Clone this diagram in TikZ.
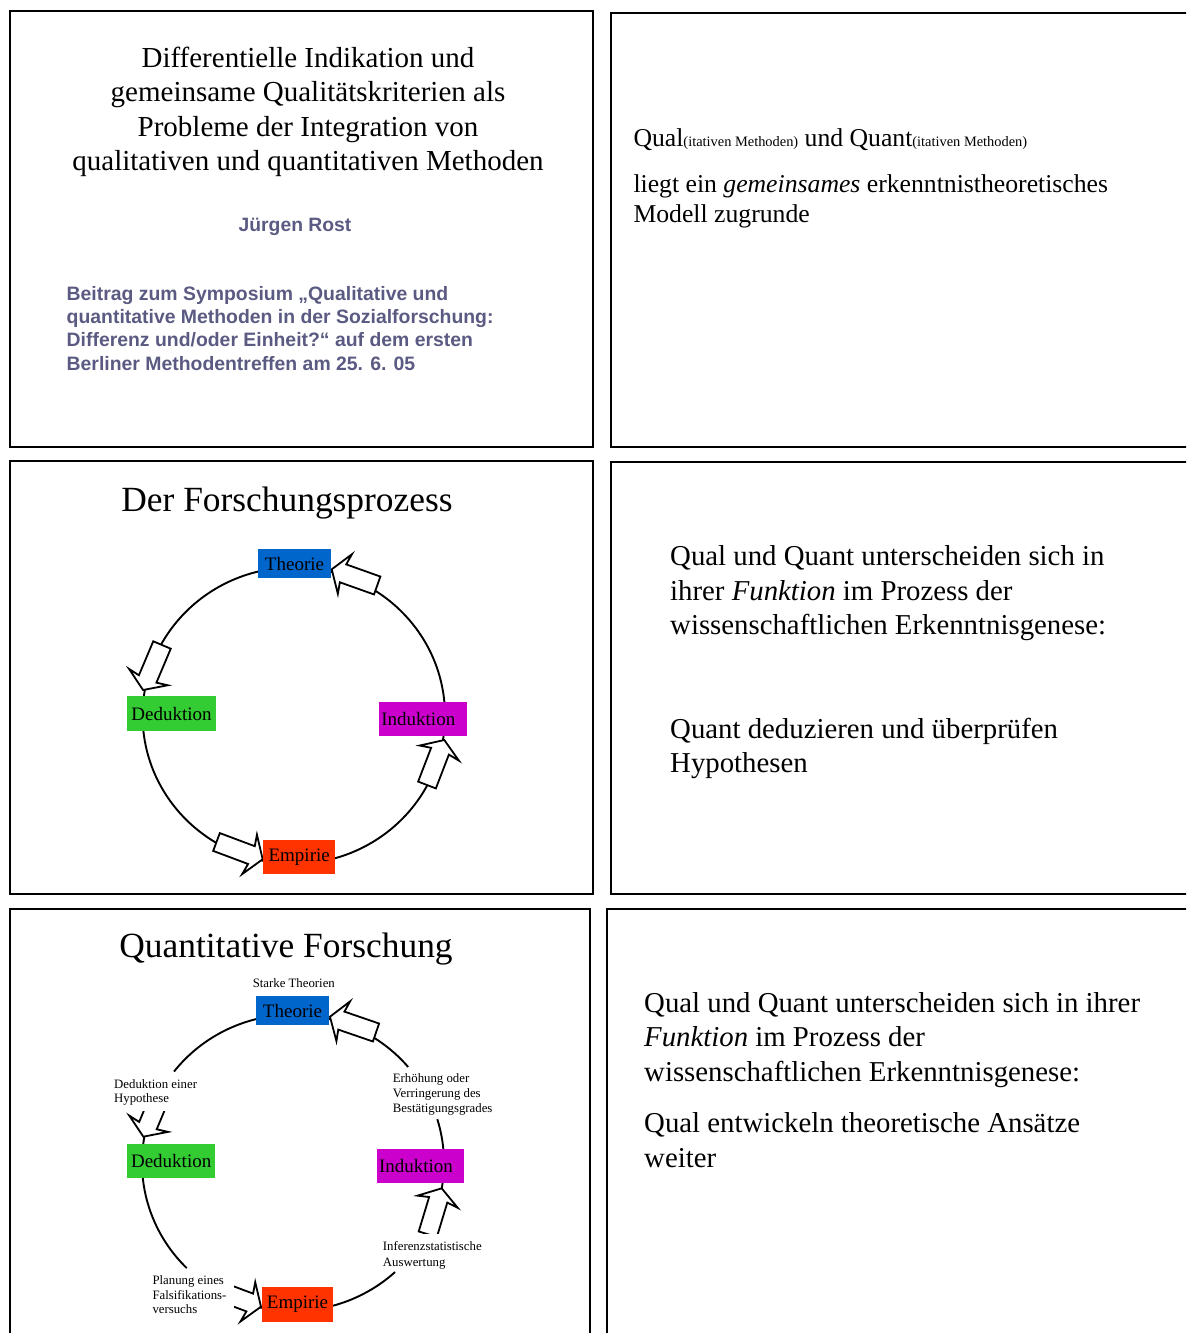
\documentclass[tikz,border=0pt]{standalone}
\usepackage{fontspec}
\setmainfont{Liberation Serif}
\newfontfamily\arialf{Liberation Sans}
\definecolor{thblue}{RGB}{0,102,204}
\definecolor{dedgreen}{RGB}{51,204,51}
\definecolor{indmag}{RGB}{204,0,204}
\definecolor{empred}{RGB}{255,51,0}
\definecolor{authc}{RGB}{90,90,130}
\newcommand\myfs[2]{\fontsize{#1}{#2}\selectfont}
\newcommand\blockarr[4]{%
 \pgfmathsetmacro\bdx{#3-#1}%
 \pgfmathsetmacro\bdy{#4-#2}%
 \pgfmathsetmacro\bang{atan2(-\bdy,\bdx)}%
 \pgfmathsetmacro\blen{veclen(\bdx,\bdy)}%
 \begin{scope}[shift={(#1,#2)},rotate=\bang]
  \draw[blockst] (0,-9.5) -- ({\blen-12},-9.5) -- ({\blen-14},-21) -- (\blen,0)
   -- ({\blen-14},21) -- ({\blen-12},9.5) -- (0,9.5) -- cycle;
 \end{scope}}
\begin{document}
\begin{tikzpicture}[x=1pt,y=-1pt,
 frame/.style={draw=black, line width=2pt},
 cyc/.style={draw=black, line width=1.9pt},
 blockst/.style={draw=black, fill=white, line width=1.8pt, line join=miter},
 stage/.style={inner sep=0pt, font=\myfs{19}{22}},
 body/.style={anchor=base west, inner sep=0pt},
 ttl/.style={anchor=base, inner sep=0pt},
 sml/.style={anchor=base west, inner sep=0pt, font=\myfs{12.8}{15}},
 mask/.style={fill=white}
]
\useasboundingbox (0,0) rectangle (1186,1333);
\clip (0,0) rectangle (1186,1333);

% slide frames
\draw[frame] (10,11) rectangle (593,447);
\draw[frame] (611,13) rectangle (1200,447);
\draw[frame] (10,461) rectangle (593,894);
\draw[frame] (611,462) rectangle (1200,894);
\draw[frame] (10,909) rectangle (590,1345);
\draw[frame] (607,909) rectangle (1200,1345);

% slide 1
\node[ttl, font=\myfs{29}{34}] (t1a) at (308,67) {Differentielle Indikation und};
\node[ttl, font=\myfs{29}{34}] (t1b) at (308,101) {gemeinsame Qualitätskriterien als};
\node[ttl, font=\myfs{29}{34}] (t1c) at (308,136) {Probleme der Integration von};
\node[ttl, font=\myfs{29}{34}] (t1d) at (308,170) {qualitativen und quantitativen Methoden};
\node[ttl, font=\arialf\bfseries\myfs{19.3}{22}, text=authc] (auth) at (295,231) {Jürgen Rost};
\node[body, font=\arialf\bfseries\myfs{19.4}{22}, text=authc] (p1a) at (66.5,300) {Beitrag zum Symposium „Qualitative und};
\node[body, font=\arialf\bfseries\myfs{19.4}{22}, text=authc] (p1b) at (66.5,323.3) {quantitative Methoden in der Sozialforschung:};
\node[body, font=\arialf\bfseries\myfs{19.4}{22}, text=authc] (p1c) at (66.5,346.7) {Differenz und/oder Einheit?“ auf dem ersten};
\node[body, font=\arialf\bfseries\myfs{19.4}{22}, text=authc] (p1d) at (66.5,370) {Berliner Methodentreffen am 25. 6. 05};

% slide 2
\node[body, font=\myfs{25.7}{30}] (s2a) at (633.3,146.7) {Qual{\myfs{14.4}{16}(itativen Methoden)} und Quant{\myfs{14.4}{16}(itativen Methoden)}};
\node[body, font=\myfs{25.7}{30}] (s2b) at (633.3,192.7) {liegt ein \textit{gemeinsames} erkenntnistheoretisches};
\node[body, font=\myfs{25.7}{30}] (s2c) at (633.3,222.7) {Modell zugrunde};

% slide 3
\node[ttl, font=\myfs{35.4}{40}] (t3) at (287,511) {Der Forschungsprozess};
\draw[cyc] (293.8,715.6) ellipse [x radius=151.2, y radius=148.2];
\blockarr{377.2}{585.5}{331.7}{569.3}
\blockarr{162}{645}{143}{690}
\blockarr{216.5}{842}{262.7}{859.3}
\blockarr{427}{785}{444.3}{740}
\node[stage, fill=thblue, minimum width=72.4pt, minimum height=28.4pt] (th1) at (294.5,563.5) {Theorie};
\node[stage, fill=dedgreen, minimum width=88.4pt, minimum height=35pt] (de1) at (171.5,713.5) {Deduktion};
\node[stage, fill=indmag, minimum width=87.7pt, minimum height=34.3pt] (in1) at (422.8,718.8) {Induktion\hspace*{9pt}};
\node[stage, fill=empred, minimum width=71.7pt, minimum height=34.3pt] (em1) at (299.2,857.2) {Empirie};

% slide 4
\node[body, font=\myfs{28.8}{35}] (s4a) at (670,565.5) {Qual und Quant unterscheiden sich in};
\node[body, font=\myfs{28.8}{35}] (s4b) at (670,600) {ihrer \textit{Funktion} im Prozess der};
\node[body, font=\myfs{28.8}{35}] (s4c) at (670,634.5) {wissenschaftlichen Erkenntnisgenese:};
\node[body, font=\myfs{28.8}{35}] (s4d) at (670,738.5) {Quant deduzieren und überprüfen};
\node[body, font=\myfs{28.8}{35}] (s4e) at (670,772.5) {Hypothesen};

% slide 5
\node[ttl, font=\myfs{35.4}{40}] (t5) at (286,957) {Quantitative Forschung};
\begin{scope}[shift={(0,447)}]
 \draw[cyc] (293,715.8) ++(-40.3:151 and 148.2) arc[start angle=-40.3, end angle=-142, x radius=151, y radius=148.2];
 \draw[cyc] (293,715.8) ++(193:151 and 148.2) arc[start angle=193, end angle=134.7, x radius=151, y radius=148.2];
 \draw[cyc] (293,715.8) ++(104:151 and 148.2) arc[start angle=104, end angle=47.5, x radius=151, y radius=148.2];
 \draw[cyc] (293,715.8) ++(11:151 and 148.2) arc[start angle=11, end angle=-17.1, x radius=151, y radius=148.2];
 \blockarr{376}{585.5}{330}{569.7}
 \blockarr{162}{645}{143.3}{689.7}
 \blockarr{214.8}{842.4}{261}{859.7}
 \blockarr{427.8}{787.2}{441.7}{741.3}
\end{scope}
\fill[mask] (108,1074) rectangle (200,1111);
\fill[mask] (378,1234) rectangle (492,1271);
\fill[mask] (146,1272) rectangle (233.5,1326);
\node[stage, fill=thblue, minimum width=73pt, minimum height=29pt] (th2) at (292.5,1010.5) {Theorie};
\node[stage, fill=dedgreen, minimum width=88pt, minimum height=34pt] (de2) at (171.2,1161) {Deduktion};
\node[stage, fill=indmag, minimum width=87.7pt, minimum height=34pt] (in2) at (420.5,1166) {Induktion\hspace*{9pt}};
\node[stage, fill=empred, minimum width=71.7pt, minimum height=35pt] (em2) at (297.5,1304.5) {Empirie};
\node[ttl, font=\myfs{12.8}{15}] (st) at (293.8,987) {Starke Theorien};
\node[sml] (la1) at (114,1088.3) {Deduktion einer};
\node[sml] (la2) at (114,1102.7) {Hypothese};
\node[sml] (lb1) at (392.7,1082.7) {Erhöhung oder};
\node[sml] (lb2) at (392.7,1097.7) {Verringerung des};
\node[sml] (lb3) at (392.7,1112.7) {Bestätigungsgrades};
\node[sml] (lc1) at (382.7,1250) {Inferenzstatistische};
\node[sml] (lc2) at (382.7,1266) {Auswertung};
\node[sml] (ld1) at (152.3,1284) {Planung eines};
\node[sml] (ld2) at (152.3,1299) {Falsifikations-};
\node[sml] (ld3) at (152.3,1313.3) {versuchs};

% slide 6
\node[body, font=\myfs{28.8}{35}] (s6a) at (644,1012) {Qual und Quant unterscheiden sich in ihrer};
\node[body, font=\myfs{28.8}{35}] (s6b) at (644,1046.7) {\textit{Funktion} im Prozess der};
\node[body, font=\myfs{28.8}{35}] (s6c) at (644,1081) {wissenschaftlichen Erkenntnisgenese:};
\node[body, font=\myfs{28.8}{35}] (s6d) at (644,1132.5) {Qual entwickeln theoretische Ansätze};
\node[body, font=\myfs{28.8}{35}] (s6e) at (644,1167) {weiter};
\end{tikzpicture}
\end{document}
